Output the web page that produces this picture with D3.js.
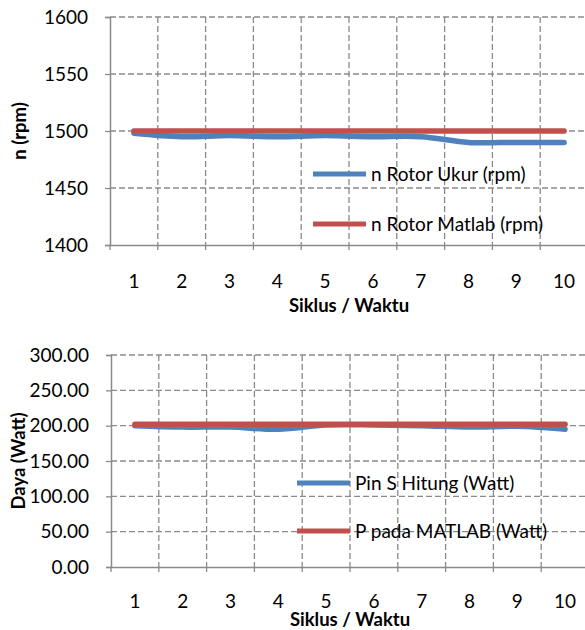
<!DOCTYPE html>
<html><head><meta charset="utf-8">
<script src="https://cdn.jsdelivr.net/npm/d3@7"></script>
<style>
body{margin:0;background:#fff;}
text{font-family:Lato,"Open Sans",sans-serif;fill:#000;}
</style></head>
<body><svg id="c" width="585" height="630"></svg>
<script>
const categories = ["1","2","3","4","5","6","7","8","9","10"];
// Top chart
const rpmTicks = [1400,1450,1500,1550,1600];
const rotorUkur = [1498,1495,1496,1495,1496,1495,1495,1490,1490,1490];
const rotorMatlab = [1500,1500,1500,1500,1500,1500,1500,1500,1500,1500];
// Bottom chart
const dayaTicks = [0,50,100,150,200,250,300];
const pinHitung = [200,198,198,195,201,201,200,198,199,195];
const pMatlab = [202,202,202,202,202,202,202,202,202,202];

const svg = d3.select("#c");
const gridColor = "#8a8a8a";
const blue = "#4F81BD", red = "#C0504D";
const FS = "19px";

function chart(o){
  const g = svg.append("g");
  const x = d3.scaleBand().domain(categories).range([o.left, o.left+478]);
  const y = d3.scaleLinear().domain(o.domain).range([o.bottom, o.top]);
  // horizontal grid
  g.selectAll(".hg").data(o.ticks.filter(t=>t!==o.domain[0])).enter().append("line")
    .attr("x1",o.left).attr("x2",o.left+478).attr("y1",d=>y(d)).attr("y2",d=>y(d))
    .attr("stroke",gridColor).attr("stroke-width",1.3).attr("stroke-dasharray","6,3");
  // vertical grid
  const bounds = categories.map(c=>x(c)).slice(1).concat([o.left+478]);
  g.selectAll(".vg").data(bounds).enter().append("line")
    .attr("x1",d=>d).attr("x2",d=>d).attr("y1",o.top).attr("y2",o.bottom)
    .attr("stroke",gridColor).attr("stroke-width",1.3).attr("stroke-dasharray","6,3");
  // y axis
  const ya = d3.axisLeft(y).tickValues(o.ticks).tickFormat(o.fmt).tickSize(5).tickPadding(17);
  const yg = g.append("g").attr("transform",`translate(${o.left},0)`).call(ya);
  yg.select(".domain").attr("stroke",gridColor).attr("stroke-width",1.5);
  yg.selectAll(".tick line").attr("stroke",gridColor).attr("stroke-width",1.3);
  yg.selectAll("text").style("font-size",FS).style("font-family","Lato,'Open Sans',sans-serif").attr("fill","#000");
  // x axis
  const xa = d3.axisBottom(x).tickSize(0).tickPadding(o.xPad);
  const xg = g.append("g").attr("transform",`translate(0,${o.bottom})`).call(xa);
  xg.select(".domain").attr("stroke",gridColor).attr("stroke-width",1.5);
  xg.selectAll("text").style("font-size",FS).style("font-family","Lato,'Open Sans',sans-serif").attr("fill","#000");
  g.selectAll(".xt").data([o.left].concat(bounds)).enter().append("line")
    .attr("x1",d=>d).attr("x2",d=>d).attr("y1",o.bottom).attr("y2",o.bottom+5)
    .attr("stroke",gridColor).attr("stroke-width",1.3);
  // series
  const line = d3.line().x((d,i)=>x(categories[i])+x.bandwidth()/2).y(d=>y(d)).curve(d3.curveCatmullRom.alpha(0.5));
  o.series.forEach(s=>{
    g.append("path").attr("d",line(s.values)).attr("fill","none")
      .attr("stroke",s.color).attr("stroke-width",5.5).attr("stroke-linecap","round");
  });
  // legend
  o.series.forEach((s,i)=>{
    const ly = o.legY[i];
    g.append("line").attr("x1",o.legX).attr("x2",o.legX+53).attr("y1",ly).attr("y2",ly)
      .attr("stroke",s.color).attr("stroke-width",5);
    g.append("text").attr("x",o.legX+58).attr("y",ly).attr("dy","0.35em")
      .style("font-size",FS).text(s.name);
  });
  // titles
  g.append("text").attr("x",o.left+239).attr("y",o.xTitleY).attr("text-anchor","middle")
    .style("font-size","18.5px").style("font-weight","bold").text("Siklus / Waktu");
  g.append("text").attr("transform",`translate(${o.yTitleX},${(o.top+o.bottom)/2}) rotate(-90)`)
    .attr("text-anchor","middle").attr("dy","0.35em")
    .style("font-size","18.5px").style("font-weight","bold").text(o.yTitle);
}

chart({left:110, top:17, bottom:245, domain:[1400,1600], ticks:rpmTicks, fmt:d3.format("d"),
  series:[{name:"n Rotor Ukur (rpm)",values:rotorUkur,color:blue},{name:"n Rotor Matlab (rpm)",values:rotorMatlab,color:red}],
  legX:313, legY:[174,224], xTitleY:312, xPad:30, yTitleX:20, yTitle:"n (rpm)"});
chart({left:111, top:355, bottom:567, domain:[0,300], ticks:dayaTicks, fmt:d3.format(".2f"),
  series:[{name:"Pin S Hitung (Watt)",values:pinHitung,color:blue},{name:"P pada MATLAB (Watt)",values:pMatlab,color:red}],
  legX:297, legY:[483,531], xTitleY:626, xPad:28, yTitleX:19, yTitle:"Daya (Watt)"});
</script></body></html>
